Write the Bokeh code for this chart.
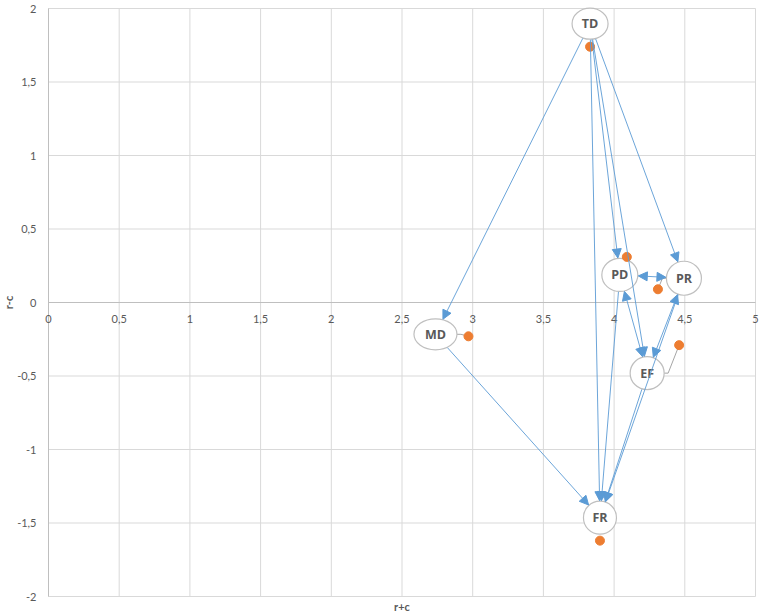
import math
from bokeh.plotting import figure
from bokeh.models import Range1d, Arrow, NormalHead, ColumnDataSource
from bokeh.embed import file_html
from bokeh.resources import INLINE
from bokeh.core.properties import value

# ---------------- data ----------------
names = ["TD", "PD", "PR", "EF", "MD", "FR"]
r_plus_c = [3.83, 4.09, 4.31, 4.46, 2.97, 3.90]
r_minus_c = [1.74, 0.31, 0.09, -0.29, -0.23, -1.62]

x_ticks = [0, 0.5, 1, 1.5, 2, 2.5, 3, 3.5, 4, 4.5, 5]
x_tick_labels = ["0", "0,5", "1", "1,5", "2", "2,5", "3", "3,5", "4", "4,5", "5"]
y_ticks = [-2, -1.5, -1, -0.5, 0, 0.5, 1, 1.5, 2]
y_tick_labels = ["-2", "-1,5", "-1", "-0,5", "0", "0,5", "1", "1,5", "2"]
x_title = "r+c"
y_title = "r-c"

edges_one_way = [("TD", "MD"), ("TD", "FR"), ("TD", "PD"), ("TD", "EF"), ("TD", "PR"),
                 ("MD", "FR"), ("PD", "FR"), ("EF", "FR"), ("PR", "FR")]
edges_two_way = [("PD", "PR"), ("PD", "EF"), ("PR", "EF")]

# ---------------- layout / style ----------------
W, H = 762, 615
LEFT, RIGHT, TOP, BOTTOM = 48, 7, 8, 19
FW, FH = W - LEFT - RIGHT, H - TOP - BOTTOM
X0, X1, Y0, Y1 = x_ticks[0], x_ticks[-1], y_ticks[0], y_ticks[-1]
KX = FW / (X1 - X0)   # px per unit
KY = FH / (Y1 - Y0)

# label callout offsets from the point (screen px, y down) and ellipse sizes (px)
label_offset = {"TD": (0, -23), "PD": (-7, 18), "PR": (26, -11),
                "EF": (-32, 28), "MD": (-33, -2), "FR": (0, -23)}
label_size = {"TD": (36, 31), "PD": (36, 33), "PR": (35, 34),
              "EF": (34, 33), "MD": (43, 31), "FR": (33, 33)}
leader_for = ["PR", "EF", "MD"]

BLUE = "#5B9BD5"
ORANGE = "#ED7D31"
GRID = "#D9D9D9"
AXIS = "#BFBFBF"
TXT = "#595959"
TICK_FONT = "Lato"

pts = {n: (x, y) for n, x, y in zip(names, r_plus_c, r_minus_c)}
lab = {}
for n in names:
    x, y = pts[n]
    dx, dy = label_offset[n]
    lab[n] = (x + dx / KX, y - dy / KY)


def on_ellipse(a, b):
    """point on the callout ellipse of a, towards the callout of b (data coords)"""
    ax, ay = lab[a]
    bx, by = lab[b]
    px, py = (bx - ax) * KX, (by - ay) * KY
    L = math.hypot(px, py)
    ux, uy = px / L, py / L
    rx, ry = label_size[a][0] / 2 + 0.5, label_size[a][1] / 2 + 0.5
    t = 1 / math.sqrt((ux / rx) ** 2 + (uy / ry) ** 2)
    return ax + ux * t / KX, ay + uy * t / KY


def arrow_source(edges):
    d = dict(x_start=[], y_start=[], x_end=[], y_end=[])
    for a, b in edges:
        sx, sy = on_ellipse(a, b)
        ex, ey = on_ellipse(b, a)
        d["x_start"].append(sx)
        d["y_start"].append(sy)
        d["x_end"].append(ex)
        d["y_end"].append(ey)
    return ColumnDataSource(d)


# the frame covers the whole canvas; the chart area is drawn inside it
p = figure(width=W, height=H, output_backend="svg", toolbar_location=None,
           x_range=Range1d(X0 - LEFT / KX, X1 + RIGHT / KX),
           y_range=Range1d(Y0 - BOTTOM / KY, Y1 + TOP / KY),
           x_axis_location=None, y_axis_location=None,
           min_border=0, outline_line_color=None)
p.grid.visible = False
p.background_fill_color = "white"
p.border_fill_color = "white"

# gridlines
p.segment(x0=x_ticks, y0=[Y0] * len(x_ticks), x1=x_ticks, y1=[Y1] * len(x_ticks),
          line_color=GRID, line_width=1)
p.segment(x0=[X0] * len(y_ticks), y0=y_ticks, x1=[X1] * len(y_ticks), y1=y_ticks,
          line_color=GRID, line_width=1)
# axis lines
p.segment(x0=[X0], y0=[0], x1=[X1], y1=[0], line_color=AXIS, line_width=1)
p.segment(x0=[X0], y0=[Y0], x1=[X0], y1=[Y1], line_color=AXIS, line_width=1)

# tick labels
p.text(x=x_ticks, y=[0] * len(x_ticks), text=x_tick_labels, y_offset=16,
       text_align="center", text_baseline="middle",
       text_font=value(TICK_FONT), text_font_size="11px", text_color=TXT)
p.text(x=[X0] * len(y_ticks), y=y_ticks, text=y_tick_labels, x_offset=-12,
       text_align="right", text_baseline="middle",
       text_font=value(TICK_FONT), text_font_size="11px", text_color=TXT)
# axis titles
p.text(x=[(X0 + X1) / 2], y=[Y0], text=[x_title], y_offset=10,
       text_align="center", text_baseline="middle",
       text_font=value(TICK_FONT), text_font_style="bold", text_font_size="11px",
       text_color=TXT)
p.text(x=[X0], y=[0], text=[y_title], x_offset=-40, angle=math.pi / 2,
       text_align="center", text_baseline="middle",
       text_font=value(TICK_FONT), text_font_style="bold", text_font_size="11px",
       text_color=TXT)

# leader lines
for n in leader_for:
    lx, ly = lab[n]
    px, py = pts[n]
    side = 1 if px > lx else -1
    sx = lx + side * (label_size[n][0] / 2) / KX
    hx = sx + side * 4 / KX
    p.line([sx, hx, px], [ly, ly, py], line_color="#A6A6A6", line_width=1)

# arrows
head = dict(size=9, fill_color=BLUE, line_color=BLUE, line_width=1)
p.add_layout(Arrow(source=arrow_source(edges_one_way), x_start="x_start", y_start="y_start",
                   x_end="x_end", y_end="y_end", line_color=BLUE, line_width=0.9,
                   end=NormalHead(**head)))
p.add_layout(Arrow(source=arrow_source(edges_two_way), x_start="x_start", y_start="y_start",
                   x_end="x_end", y_end="y_end", line_color=BLUE, line_width=0.9,
                   start=NormalHead(**head), end=NormalHead(**head)))

# label callouts
lab_src = ColumnDataSource(dict(
    x=[lab[n][0] for n in names], y=[lab[n][1] for n in names], t=names,
    w=[label_size[n][0] for n in names], h=[label_size[n][1] for n in names]))
p.ellipse(x="x", y="y", width="w", height="h", width_units="screen", height_units="screen",
          source=lab_src, fill_color="white", line_color=AXIS, line_width=1.2)
p.text(x="x", y="y", text="t", source=lab_src, text_align="center", text_baseline="middle",
       text_font=value("Open Sans"), text_font_style="bold", text_font_size="12.5px",
       text_color=TXT)

# data points
p.scatter(r_plus_c, r_minus_c, size=9, color=ORANGE)

open("out.html", "w").write(file_html(p, INLINE))
